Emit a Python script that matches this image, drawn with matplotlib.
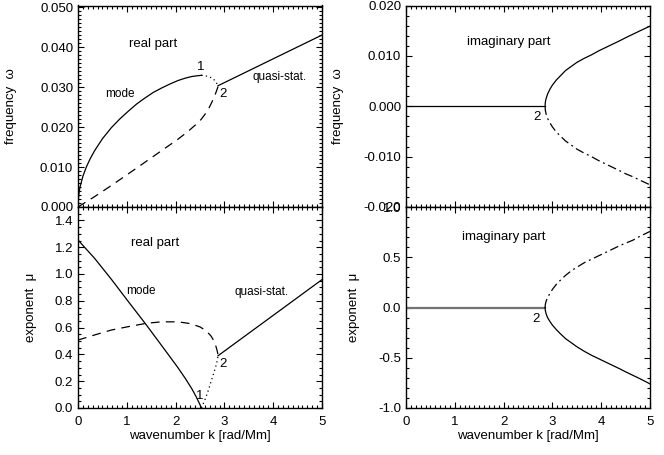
import numpy as np
import matplotlib.pyplot as plt
from matplotlib.ticker import MultipleLocator, FormatStrFormatter

plt.rcParams['font.family'] = ['Liberation Sans', 'DejaVu Sans']

# --- frequency, real part (top left) ---
k_mode_w = [0, 0.005, 0.02, 0.04, 0.068, 0.1, 0.17, 0.25, 0.34, 0.5, 0.685, 0.86, 1.03,
            1.2, 1.37, 1.54, 1.71, 1.88, 2.05, 2.2, 2.33, 2.45, 2.53]
w_mode = [0, 0.0017, 0.0034, 0.0049, 0.0062, 0.0077, 0.0100, 0.0121, 0.0141, 0.0171, 0.0199,
          0.0221, 0.0240, 0.0258, 0.0273, 0.0287, 0.0298, 0.0308, 0.0317, 0.0323, 0.0327,
          0.0329, 0.0330]
k_dot_w = [2.53, 2.6, 2.67, 2.73, 2.78, 2.83, 2.87]
w_dot = [0.0330, 0.0329, 0.0327, 0.0324, 0.0320, 0.0313, 0.0304]
k_dash_w = [0, 0.34, 0.685, 1.03, 1.37, 1.71, 2.05, 2.25, 2.4, 2.52, 2.6, 2.68, 2.74, 2.79,
            2.83, 2.87]
w_dash = [0, 0.0026, 0.0054, 0.0083, 0.0112, 0.0141, 0.0170, 0.0189, 0.0205, 0.0219, 0.0232,
          0.0247, 0.0262, 0.0275, 0.0288, 0.0302]
k_quasi_w = [2.87, 5.0]
w_quasi = [0.0304, 0.0431]

# --- frequency, imaginary part (top right) ---
k_zero_wi = [0, 2.85]
wi_zero = [0, 0]
k_branch_wi = [2.85, 2.855, 2.87, 2.9, 2.95, 3.0, 3.08, 3.15, 3.27, 3.4, 3.5, 3.65, 3.8,
               3.95, 4.1, 4.25, 4.4, 4.5, 4.65, 4.8, 5.0]
wi_upper = [0, 0.0008, 0.0015, 0.0024, 0.0034, 0.0042, 0.0052, 0.0059, 0.0071, 0.0080,
            0.0087, 0.0095, 0.0102, 0.0110, 0.0117, 0.0124, 0.0131, 0.0136, 0.0143, 0.0150,
            0.0159]
wi_lower = [0, -0.0008, -0.0015, -0.0024, -0.0033, -0.0041, -0.0051, -0.0058, -0.0069,
            -0.0078, -0.0085, -0.0093, -0.0100, -0.0108, -0.0115, -0.0122, -0.0129, -0.0134,
            -0.0140, -0.0147, -0.0156]

# --- exponent, real part (bottom left) ---
k_mode_m = [0, 0.34, 0.685, 1.03, 1.4, 1.71, 2.05, 2.2, 2.33, 2.42, 2.48, 2.53]
m_mode = [1.254, 1.117, 0.96, 0.795, 0.62, 0.468, 0.30, 0.22, 0.145, 0.085, 0.04, 0.0]
k_dot_m = [2.53, 2.6, 2.66, 2.72, 2.79, 2.84, 2.87]
m_dot = [0.0, 0.06, 0.12, 0.19, 0.27, 0.33, 0.39]
k_dash_m = [0, 0.34, 0.685, 1.03, 1.4, 1.71, 2.05, 2.3, 2.5, 2.62, 2.72, 2.78, 2.82, 2.85,
            2.87]
m_dash = [0.507, 0.545, 0.582, 0.607, 0.632, 0.643, 0.643, 0.630, 0.605, 0.578, 0.54, 0.505,
          0.468, 0.43, 0.396]
k_quasi_m = [2.87, 5.0]
m_quasi = [0.39, 0.958]

# --- exponent, imaginary part (bottom right) ---
k_zero_mi = [0, 2.85]
mi_zero = [0, 0]
k_branch_mi = [2.85, 2.855, 2.87, 2.9, 2.95, 3.0, 3.08, 3.15, 3.27, 3.4, 3.5, 3.65, 3.8,
               3.95, 4.1, 4.25, 4.4, 4.5, 4.65, 4.8, 5.0]
mi_upper = [0, 0.03, 0.06, 0.10, 0.14, 0.18, 0.23, 0.265, 0.32, 0.37, 0.40, 0.445, 0.48,
            0.515, 0.55, 0.585, 0.62, 0.64, 0.67, 0.71, 0.757]
mi_lower = [0, -0.03, -0.06, -0.10, -0.14, -0.175, -0.22, -0.255, -0.31, -0.355, -0.39,
            -0.435, -0.475, -0.51, -0.545, -0.58, -0.615, -0.64, -0.675, -0.71, -0.76]

fig = plt.figure(figsize=(6.64, 4.55), dpi=100)
W, H = 664, 455


def make_axes(x0, y0, x1, y1):
    return fig.add_axes([x0 / W, 1 - y1 / H, (x1 - x0) / W, (y1 - y0) / H])


ax_tl = make_axes(78, 5.5, 322, 207)
ax_tr = make_axes(406, 5.5, 650, 207)
ax_bl = make_axes(78, 207, 322, 408)
ax_br = make_axes(406, 207, 650, 408)

lw = 0.9
dash = (0, (7, 5))
dashdot = (0, (7, 3, 1.5, 3))
dotted = (0, (1, 2.5))

ax_tl.plot(k_mode_w, w_mode, color='k', lw=lw)
ax_tl.plot(k_dot_w, w_dot, color='k', lw=lw, linestyle=dotted)
ax_tl.plot(k_dash_w, w_dash, color='k', lw=lw, linestyle=dash)
ax_tl.plot(k_quasi_w, w_quasi, color='k', lw=lw)
ax_tl.set_ylim(0, 0.0505)
ax_tl.yaxis.set_major_locator(MultipleLocator(0.01))
ax_tl.yaxis.set_minor_locator(MultipleLocator(0.001))
ax_tl.yaxis.set_major_formatter(FormatStrFormatter('%.3f'))
ax_tl.text(1.54, 0.0408, 'real part', fontsize=9.5, ha='center', va='center')
ax_tl.text(0.86, 0.0282, 'mode', fontsize=8.5, ha='center', va='center')
ax_tl.text(4.14, 0.0327, 'quasi-stat.', fontsize=8.5, ha='center', va='center')
ax_tl.text(2.52, 0.0351, '1', fontsize=9.5, ha='center', va='center')
ax_tl.text(2.97, 0.0282, '2', fontsize=9.5, ha='center', va='center')
ax_tl.set_ylabel('frequency  ω', fontsize=9.5)
ax_tl.yaxis.set_label_coords(-0.25, 0.5)

ax_tr.plot(k_zero_wi, wi_zero, color='k', lw=lw)
ax_tr.plot(k_branch_wi, wi_upper, color='k', lw=lw)
ax_tr.plot(k_branch_wi, wi_lower, color='k', lw=lw, linestyle=dashdot)
ax_tr.set_ylim(-0.02, 0.02)
ax_tr.yaxis.set_major_locator(MultipleLocator(0.01))
ax_tr.yaxis.set_minor_locator(MultipleLocator(0.002))
ax_tr.yaxis.set_major_formatter(FormatStrFormatter('%.3f'))
ax_tr.text(2.11, 0.0128, 'imaginary part', fontsize=9.5, ha='center', va='center')
ax_tr.text(2.69, -0.0022, '2', fontsize=9.5, ha='center', va='center')
ax_tr.set_ylabel('frequency  ω', fontsize=9.5)
ax_tr.yaxis.set_label_coords(-0.254, 0.5)

ax_bl.plot(k_mode_m, m_mode, color='k', lw=lw)
ax_bl.plot(k_dot_m, m_dot, color='k', lw=lw, linestyle=dotted)
ax_bl.plot(k_dash_m, m_dash, color='k', lw=lw, linestyle=dash)
ax_bl.plot(k_quasi_m, m_quasi, color='k', lw=lw)
ax_bl.set_ylim(0, 1.5)
ax_bl.yaxis.set_major_locator(MultipleLocator(0.2))
ax_bl.yaxis.set_minor_locator(MultipleLocator(0.05))
ax_bl.yaxis.set_major_formatter(FormatStrFormatter('%.1f'))
ax_bl.text(1.58, 1.23, 'real part', fontsize=9.5, ha='center', va='center')
ax_bl.text(1.29, 0.873, 'mode', fontsize=8.5, ha='center', va='center')
ax_bl.text(3.77, 0.866, 'quasi-stat.', fontsize=8.5, ha='center', va='center')
ax_bl.text(2.5, 0.09, '1', fontsize=9.5, ha='center', va='center')
ax_bl.text(2.97, 0.33, '2', fontsize=9.5, ha='center', va='center')
ax_bl.set_ylabel('exponent  μ', fontsize=9.5)
ax_bl.yaxis.set_label_coords(-0.168, 0.5)

ax_br.plot(k_zero_mi, mi_zero, color='0.45', lw=1.6)
ax_br.plot(k_branch_mi, mi_lower, color='k', lw=lw)
ax_br.plot(k_branch_mi, mi_upper, color='k', lw=lw, linestyle=dashdot)
ax_br.set_ylim(-1.0, 1.0)
ax_br.yaxis.set_major_locator(MultipleLocator(0.5))
ax_br.yaxis.set_minor_locator(MultipleLocator(0.1))
ax_br.yaxis.set_major_formatter(FormatStrFormatter('%.1f'))
ax_br.text(2.01, 0.70, 'imaginary part', fontsize=9.5, ha='center', va='center')
ax_br.text(2.67, -0.11, '2', fontsize=9.5, ha='center', va='center')
ax_br.set_ylabel('exponent  μ', fontsize=9.5)
ax_br.yaxis.set_label_coords(-0.189, 0.5)

for ax in (ax_tl, ax_tr, ax_bl, ax_br):
    ax.set_xlim(0, 5)
    ax.xaxis.set_major_locator(MultipleLocator(1))
    ax.xaxis.set_minor_locator(MultipleLocator(0.1))
    ax.tick_params(which='both', direction='in', top=True, right=True,
                   labelsize=9.5, width=0.8)
    ax.tick_params(which='major', length=4)
    ax.tick_params(which='minor', length=2)
    ax.tick_params(axis='x', pad=6)
    for s in ax.spines.values():
        s.set_linewidth(1.0)

for ax in (ax_tl, ax_tr):
    ax.tick_params(labelbottom=False)
for ax in (ax_bl, ax_br):
    ax.set_xlabel('wavenumber k [rad/Mm]', fontsize=9.5, labelpad=1.5)

fig.savefig('out.png', dpi=100)
